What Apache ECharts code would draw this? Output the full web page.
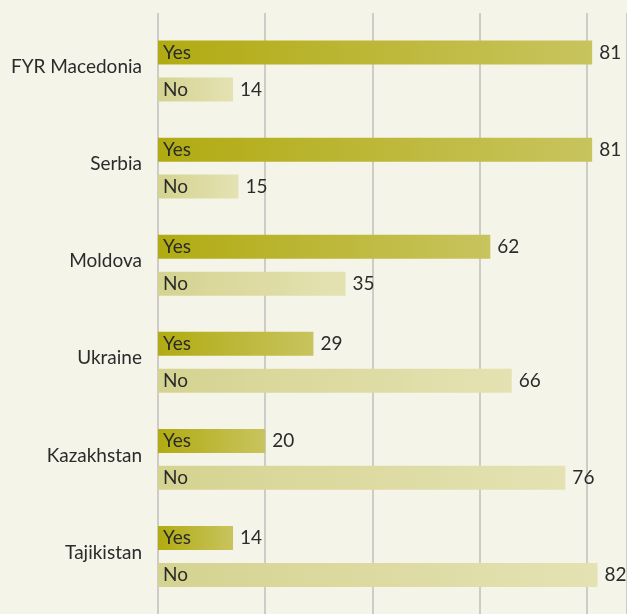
<!DOCTYPE html>
<html>
<head>
<meta charset="utf-8">
<script src="https://cdn.jsdelivr.net/npm/echarts@6/dist/echarts.min.js"></script>
<style>
  html, body { margin: 0; padding: 0; background: #f5f4e9; }
  #chart { width: 627px; height: 614px; }
</style>
</head>
<body>
<div id="chart"></div>
<script>
var countries = ['FYR Macedonia', 'Serbia', 'Moldova', 'Ukraine', 'Kazakhstan', 'Tajikistan'];
var yesValues = [81, 81, 62, 29, 20, 14];
var noValues = [14, 15, 35, 66, 76, 82];
var seriesNames = ['Yes', 'No'];

var font = 'Lato';
var fsize = 19;
var txt = '#2b2b2b';
var axisMax = 87.5;
var pxPerUnit = 5.375;

var myChart = echarts.init(document.getElementById('chart'));

function grad(c1, c2) {
    return new echarts.graphic.LinearGradient(0, 0, 1, 0, [
        { offset: 0, color: c1 },
        { offset: 1, color: c2 }
    ]);
}

// visible bars, value at the right end
function barSeries(data, c1, c2) {
    return {
        type: 'bar',
        xAxisIndex: 0,
        yAxisIndex: 0,
        data: data,
        barWidth: 24,
        barGap: '54%',
        itemStyle: { color: grad(c1, c2) },
        z: 3,
        label: {
            show: true,
            position: 'right',
            distance: 7,
            color: txt,
            fontFamily: font,
            fontSize: fsize
        }
    };
}

// transparent copies on a hidden axis, carrying the "Yes"/"No" text
function nameSeries(name, data) {
    return {
        type: 'bar',
        xAxisIndex: 0,
        yAxisIndex: 1,
        data: data,
        barWidth: 24,
        barGap: '54%',
        silent: true,
        itemStyle: { color: 'rgba(0,0,0,0)' },
        z: 4,
        label: {
            show: true,
            position: 'insideLeft',
            distance: 5,
            formatter: name,
            color: txt,
            fontFamily: font,
            fontSize: fsize
        }
    };
}

var rightPad = 627 - 158 - axisMax * pxPerUnit;

option = {
    backgroundColor: '#f5f4e9',
    animation: false,
    grid: [
        { left: 158, right: rightPad, top: 22.5, bottom: 9 },
        { left: 158, right: rightPad, top: 13, bottom: -20 }
    ],
    xAxis: [
        {
            gridIndex: 0, type: 'value', min: 0, max: axisMax,
            axisLine: { show: false }, axisTick: { show: false },
            axisLabel: { show: false }, splitLine: { show: false }
        },
        {
            gridIndex: 1, type: 'value', min: 0, max: axisMax, interval: 20,
            axisLine: { show: false }, axisTick: { show: false },
            axisLabel: { show: false },
            splitLine: { show: true, lineStyle: { color: '#bfbfbd', width: 1.5 } }
        }
    ],
    yAxis: [
        {
            gridIndex: 0, type: 'category', data: countries, inverse: true,
            axisLine: { show: false }, axisTick: { show: false },
            axisLabel: {
                margin: 16,
                formatter: function (v) { return '{c|' + v + '}'; },
                rich: {
                    c: {
                        color: txt, fontFamily: font, fontSize: fsize,
                        padding: [0, 0, 8, 0]
                    }
                }
            }
        },
        {
            gridIndex: 0, type: 'category', data: countries, inverse: true, show: false
        },
        {
            gridIndex: 1, type: 'category', data: countries, show: false
        }
    ],
    series: [
        barSeries(yesValues, '#b1ab12', '#c8c45e'),
        barSeries(noValues, '#d5d390', '#e4e2b2'),
        nameSeries(seriesNames[0], yesValues),
        nameSeries(seriesNames[1], noValues)
    ]
};

myChart.setOption(option);
</script>
</body>
</html>
